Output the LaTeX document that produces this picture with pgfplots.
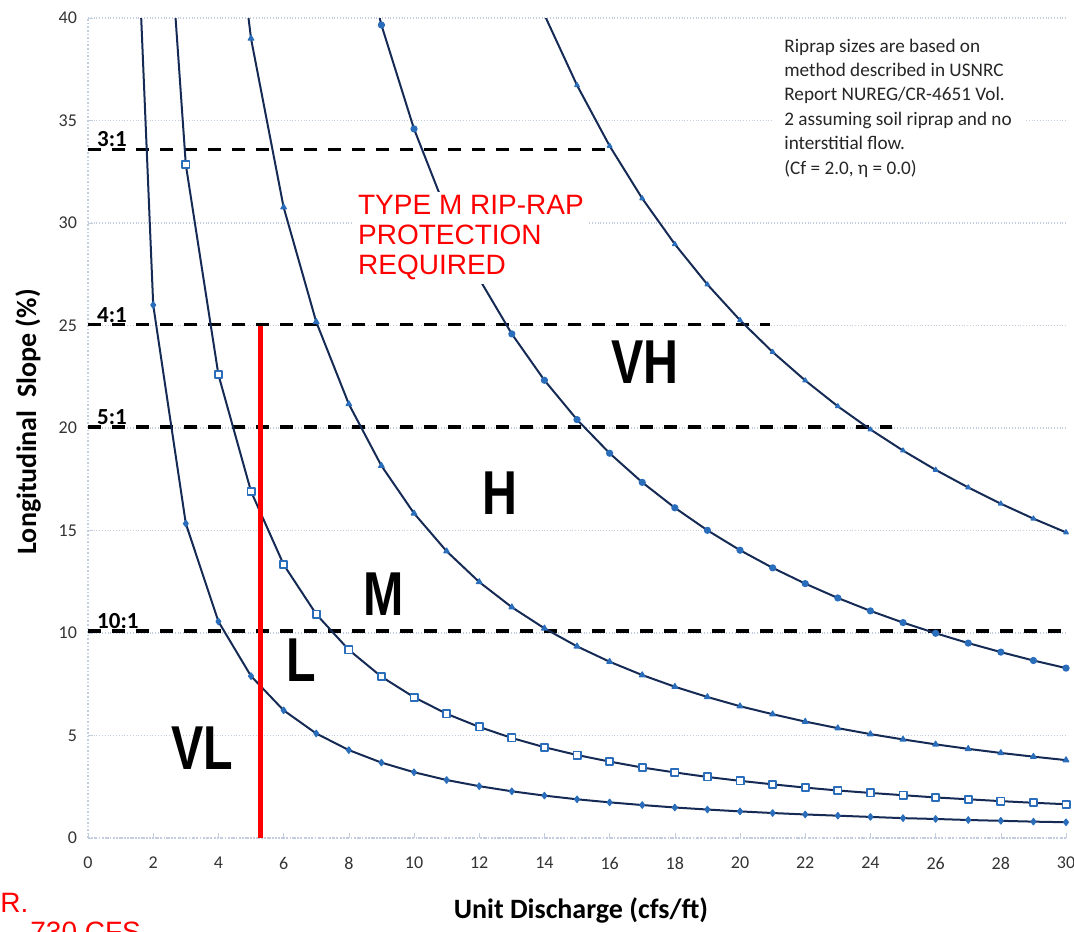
\documentclass[border=0pt]{standalone}
\usepackage{pgfplots}
\pgfplotsset{compat=1.18}
\usepackage{fontspec}
\setmainfont{Carlito}
\newfontfamily\arialfont{Liberation Sans}
\definecolor{curveline}{HTML}{152B55}
\definecolor{markblue}{HTML}{2A6EBB}
\definecolor{gridblue}{HTML}{C2CEDF}
\tikzset{
  ratiolbl/.style={anchor=base west, inner sep=0pt,
    font=\fontsize{11.5}{11.5}\selectfont\bfseries},
  zone/.style={font=\arialfont\fontsize{31}{31}\selectfont\bfseries, xscale=0.78},
}

\begin{document}
\begin{tikzpicture}
\begin{axis}[
  scale only axis,
  width=489pt, height=410pt,
  xmin=0, xmax=30, ymin=0, ymax=40,
  xtick={0,2,...,30}, ytick={0,5,...,40},
  axis lines*=left,
  axis line style={draw=gridblue, densely dotted, line width=0.8pt},
  major tick length=2.5pt,
  tick style={gridblue},
  ymajorgrids,
  grid style={gridblue, densely dotted, line width=0.6pt},
  tick label style={font=\fontsize{9}{9}\selectfont, text=black!80},
  /pgf/number format/assume math mode=true,
  xticklabel style={yshift=-6pt},
  yticklabel style={xshift=-2pt},
  clip mode=individual,
  every axis plot/.append style={line join=round},
  curve/.style={draw=curveline, line width=1pt, mark size=1.6pt,
    mark options={draw=markblue, fill=markblue, line width=0.6pt}},
  ratio/.style={black, line width=1.6pt, dash pattern=on 6.5pt off 5.5pt},
]

% slope reference lines
\addplot[ratio] coordinates {(0,33.6) (16.07,33.6)};
\addplot[ratio] coordinates {(0,25.05) (20.92,25.05)};
\addplot[ratio] coordinates {(0,20.05) (24.66,20.05)};
\addplot[ratio] coordinates {(0,10.1) (30,10.1)};

% VL / L boundary
\addplot[curve, mark=diamond*] coordinates {
  (1,64.0) (2,26.0) (3,15.34) (4,10.56) (5,7.90) (6,6.23) (7,5.10) (8,4.29)
  (9,3.68) (10,3.21) (11,2.83) (12,2.53) (13,2.28) (14,2.07) (15,1.89)
  (16,1.74) (17,1.61) (18,1.49) (19,1.39) (20,1.30) (21,1.22) (22,1.15)
  (23,1.09) (24,1.03) (25,0.97) (26,0.93) (27,0.88) (28,0.84) (29,0.80) (30,0.77)};
% L / M boundary
\addplot[curve, mark=square*, mark options={fill=white, draw=markblue, line width=0.9pt}, mark size=1.8pt] coordinates {
  (2,55.6) (3,32.85) (4,22.60) (5,16.91) (6,13.34) (7,10.92) (8,9.18)
  (9,7.87) (10,6.87) (11,6.06) (12,5.42) (13,4.88) (14,4.43) (15,4.05)
  (16,3.73) (17,3.44) (18,3.20) (19,2.98) (20,2.79) (21,2.62) (22,2.46)
  (23,2.32) (24,2.20) (25,2.09) (26,1.98) (27,1.89) (28,1.80) (29,1.72) (30,1.65)};
% M / H boundary
\addplot[curve, mark=triangle*] coordinates {
  (4,52.1) (5,39.0) (6,30.77) (7,25.18) (8,21.17) (9,18.16) (10,15.84)
  (11,13.99) (12,12.49) (13,11.26) (14,10.23) (15,9.35) (16,8.60) (17,7.95)
  (18,7.38) (19,6.88) (20,6.43) (21,6.04) (22,5.68) (23,5.36) (24,5.07)
  (25,4.81) (26,4.57) (27,4.35) (28,4.15) (29,3.97) (30,3.80)};
% H / VH boundary
\addplot[curve, mark=*, mark size=1.5pt] coordinates {
  (8,46.2) (9,39.66) (10,34.59) (11,30.54) (12,27.28) (13,24.59) (14,22.33)
  (15,20.41) (16,18.77) (17,17.35) (18,16.11) (19,15.01) (20,14.04) (21,13.18)
  (22,12.41) (23,11.71) (24,11.08) (25,10.51) (26,9.99) (27,9.51) (28,9.07)
  (29,8.66) (30,8.29)};
% upper VH curve
\addplot[curve, mark=triangle*, mark size=1.3pt] coordinates {
  (13,44.2) (14,40.16) (15,36.72) (16,33.76) (17,31.20) (18,28.97) (19,27.00)
  (20,25.26) (21,23.71) (22,22.32) (23,21.06) (24,19.93) (25,18.90) (26,17.96)
  (27,17.10) (28,16.31) (29,15.58) (30,14.91)};

% design discharge
\addplot[red, line width=2.5pt] coordinates {(5.28,0) (5.28,25.0)};

% ratio labels, resting on their dashed lines
\node[ratiolbl] at (axis cs:0.27,33.72) {3:1};
\node[ratiolbl] at (axis cs:0.27,25.17) {4:1};
\node[ratiolbl] at (axis cs:0.27,20.17) {5:1};
\node[ratiolbl] at (axis cs:0.27,10.22) {10:1};

% zone labels
\node[zone] at (axis cs:3.50,4.39) {VL};
\node[zone] at (axis cs:6.53,8.68) {L};
\node[zone] at (axis cs:9.08,11.9) {M};
\node[zone] at (axis cs:12.64,16.8) {H};
\node[zone] at (axis cs:17.09,23.2) {VH};

% notes
\node[anchor=north west, fill=white, inner sep=2pt, align=left, text=red,
  font=\arialfont\fontsize{14}{15}\selectfont] at (axis cs:8.15,31.55)
  {TYPE M RIP-RAP\\PROTECTION\\REQUIRED};
\node[anchor=north west, fill=white, inner xsep=6pt, inner ysep=3pt, align=left, text=black!85,
  font=\fontsize{9.6}{12.2}\selectfont] at (axis cs:20.98,39.3)
  {Riprap sizes are based on\\method described in USNRC\\Report NUREG/CR-4651 Vol.\\2 assuming soil riprap and no\\interstitial flow.\\(Cf = 2.0, η = 0.0)};

% axis titles
\node[rotate=90, font=\fontsize{14}{14}\selectfont\bfseries] at (axis cs:-1.84,20.3) {Longitudinal\ \ Slope (\%)};
\node[font=\fontsize{14}{14}\selectfont\bfseries] at (axis cs:15.12,-3.51) {Unit Discharge (cfs/ft)};

% stray red text cut at the page edge, as in the source image
\node[anchor=base west, inner sep=0pt, text=red, font=\arialfont\fontsize{14}{14}\selectfont] at (axis cs:-2.70,-3.61) {R.};
\node[anchor=base west, inner sep=0pt, text=red, font=\arialfont\fontsize{14}{14}\selectfont] at (axis cs:-1.78,-5.07) {730 CFS};

\coordinate (bbA) at (axis cs:-2.70,-4.537);
\coordinate (bbB) at (axis cs:30.245,40.88);
\end{axis}
\pgfresetboundingbox
\path[use as bounding box] (bbA) rectangle (bbB);
\end{tikzpicture}
\end{document}
